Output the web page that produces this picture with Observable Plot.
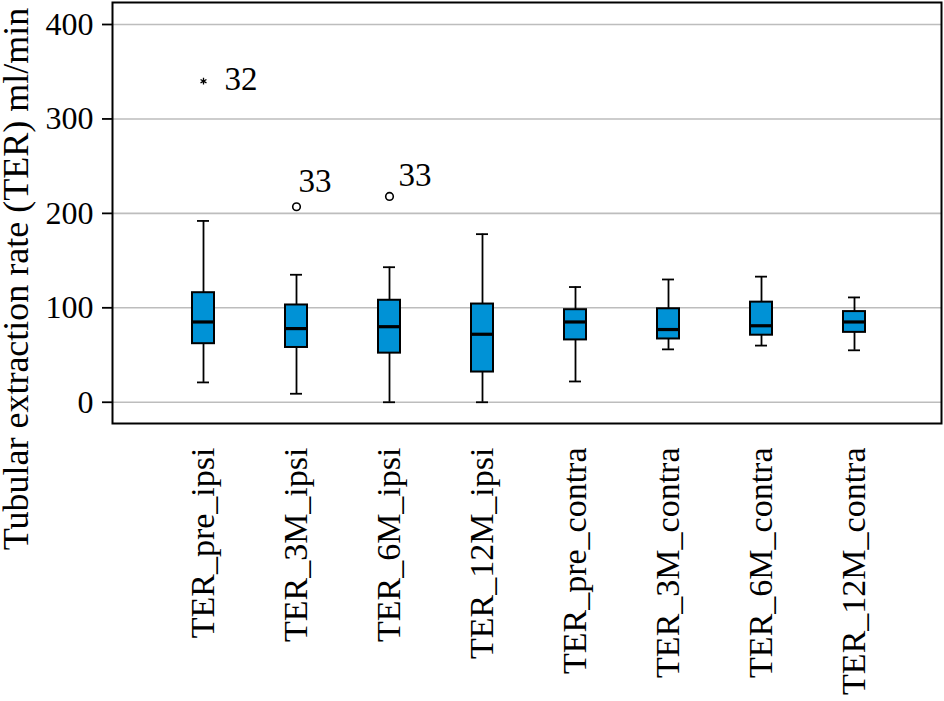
<!DOCTYPE html>
<html><head><meta charset="utf-8">
<script src="https://cdn.jsdelivr.net/npm/d3@7"></script>
<script src="https://cdn.jsdelivr.net/npm/@observablehq/plot@0.6"></script>
<style>body{margin:0;background:#fff}</style>
</head><body><div id="chart"></div>
<script>
const categories = ["TER_pre_ipsi","TER_3M_ipsi","TER_6M_ipsi","TER_12M_ipsi","TER_pre_contra","TER_3M_contra","TER_6M_contra","TER_12M_contra"];
const whiskerLow  = [21, 9, 0, 0, 22, 56, 60, 55];
const q1          = [62, 58, 52, 32, 66, 67, 71, 74];
const median      = [85, 78, 80, 72, 85, 77, 81, 85];
const q3          = [116, 103, 108, 104, 98, 99, 106, 96];
const whiskerHigh = [192, 135, 143, 178, 122, 130, 133, 111];
const outlierCategory = ["TER_pre_ipsi","TER_3M_ipsi","TER_6M_ipsi"];
const outlierValue = [340, 207, 218];
const outlierLabel = ["32","33","33"];
const outlierKind = ["extreme","outlier","outlier"];
const yTicks = [0, 100, 200, 300, 400];
const yTitle = "Tubular extraction rate (TER) ml/min";

const boxes = categories.map((c, i) => ({cat: c, lo: whiskerLow[i], q1: q1[i], med: median[i], q3: q3[i], hi: whiskerHigh[i]}));
const outliers = outlierCategory.map((c, i) => ({cat: c, value: outlierValue[i], label: outlierLabel[i], kind: outlierKind[i]}));

const FONT = "Liberation Serif";
const BLUE = "#0092d6";

const chart = Plot.plot({
  width: 944,
  height: 701,
  marginLeft: 112,
  marginRight: 3,
  marginTop: 2,
  marginBottom: 278,
  style: {fontFamily: FONT, background: "white", color: "black"},
  x: {domain: categories, paddingInner: 0.7646, paddingOuter: 0.818, align: 0.51, axis: null},
  y: {domain: [-22.5, 423.3], axis: null},
  marks: [
    Plot.gridY(yTicks, {stroke: "#bdbdbd", strokeOpacity: 1, strokeWidth: 1.6}),
    Plot.ruleX(boxes, {x: "cat", y1: "lo", y2: "hi", stroke: "black", strokeWidth: 1.8}),
    Plot.tickY(boxes, {x: "cat", y: "lo", insetLeft: 5, insetRight: 5, stroke: "black", strokeWidth: 1.8}),
    Plot.tickY(boxes, {x: "cat", y: "hi", insetLeft: 5, insetRight: 5, stroke: "black", strokeWidth: 1.8}),
    Plot.barY(boxes, {x: "cat", y1: "q1", y2: "q3", fill: BLUE, stroke: "black", strokeWidth: 2}),
    Plot.tickY(boxes, {x: "cat", y: "med", stroke: "black", strokeWidth: 3.2}),
    Plot.dot(outliers.filter(d => d.kind === "outlier"), {x: "cat", y: "value", r: 3.8, stroke: "black", strokeWidth: 1.6, fill: "white"}),
    Plot.dot(outliers.filter(d => d.kind === "extreme"), {x: "cat", y: "value", symbol: "asterisk", r: 3.2, stroke: "black", strokeWidth: 1.3}),
    Plot.text(outliers.slice(0, 1), {x: "cat", y: "value", text: "label", textAnchor: "start", lineAnchor: "bottom", dx: 21, dy: 9, fontSize: 33, fontFamily: FONT, fill: "black"}),
    Plot.text(outliers.slice(1, 2), {x: "cat", y: "value", text: "label", textAnchor: "start", lineAnchor: "bottom", dx: 2, dy: -14.5, fontSize: 33, fontFamily: FONT, fill: "black"}),
    Plot.text(outliers.slice(2, 3), {x: "cat", y: "value", text: "label", textAnchor: "start", lineAnchor: "bottom", dx: 9, dy: -10.5, fontSize: 33, fontFamily: FONT, fill: "black"}),
    Plot.frame({stroke: "black", strokeWidth: 2}),
    Plot.axisY(yTicks, {tickSize: 10, tickPadding: 9, fontSize: 32, fontFamily: FONT, strokeWidth: 1.8, label: null, fill: "black"}),
    Plot.text(categories, {x: d => d, frameAnchor: "bottom", rotate: -90, textAnchor: "end", lineAnchor: "bottom", dx: 10.5, dy: 24, fontSize: 34, fontFamily: FONT, fill: "black"}),
    Plot.text([yTitle], {frameAnchor: "left", rotate: -90, textAnchor: "middle", lineAnchor: "bottom", dx: -85, dy: 66, fontSize: 36, fontFamily: FONT, fill: "black"})
  ]
});
document.getElementById("chart").appendChild(chart);
</script>
</body></html>
